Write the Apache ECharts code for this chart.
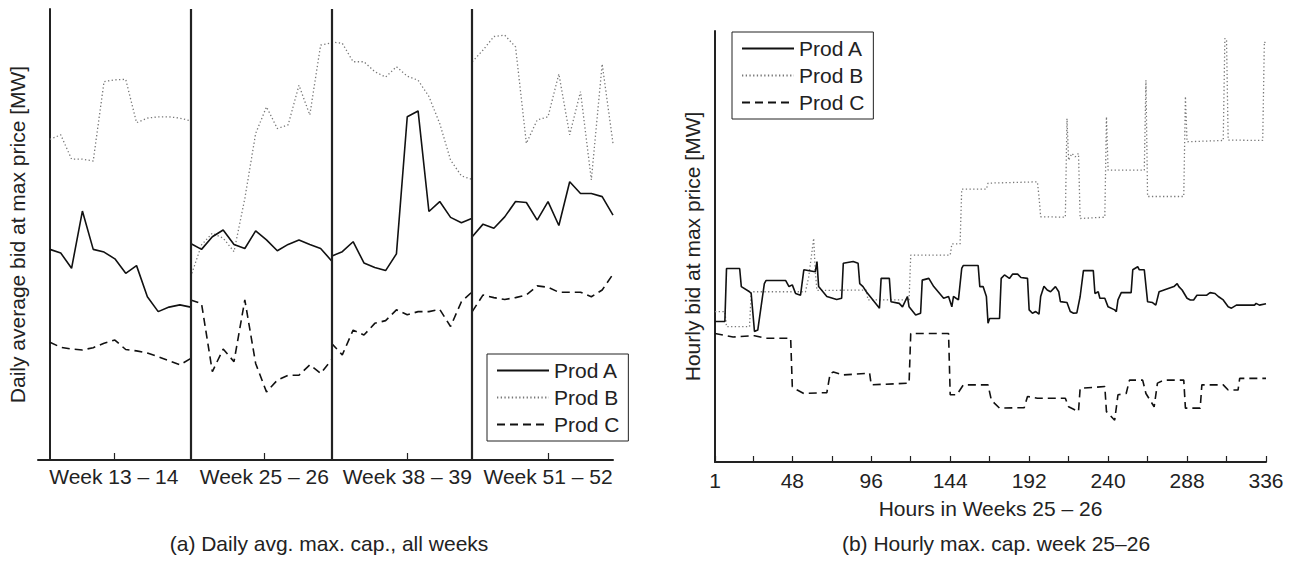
<!DOCTYPE html>
<html><head><meta charset="utf-8">
<script src="https://cdn.jsdelivr.net/npm/echarts@6/dist/echarts.min.js"></script>
<style>html,body{margin:0;padding:0;background:#fff}#c{width:1291px;height:562px}</style>
</head><body><div id="c"></div>
<script>
// ---------- data ----------
const products = ['Prod A', 'Prod B', 'Prod C'];
const weekLabels = ['Week 13 – 14', 'Week 25 – 26', 'Week 38 – 39', 'Week 51 – 52'];
const daysPerPeriod = 14;

// daily averages, 4 periods x 14 days
const dailyA = [46.7,45.9,42.5,55.2,46.7,46.1,44.6,41.4,43.1,36.2,32.9,33.9,34.4,33.9,
                48.0,46.7,49.5,51.0,47.8,46.9,50.8,48.8,46.4,47.8,48.8,47.8,46.9,44.2,
                45.2,46.2,48.4,43.7,42.7,42.0,45.7,76.1,77.4,55.1,57.3,53.8,52.6,53.6,
                49.5,52.3,51.4,53.9,57.3,57.1,53.2,57.3,52.0,61.7,59.1,59.1,58.4,54.3];
const dailyB = [71.1,72.1,66.7,66.7,66.3,83.9,84.3,84.4,74.8,75.8,76.1,76.1,75.8,75.2,
                40.6,47.7,50.3,49.2,46.2,58.0,72.4,78.3,73.5,74.3,83.1,76.5,92.0,92.5,
                92.7,92.4,88.3,88.3,86.1,84.9,87.2,85.1,84.2,80.6,74.6,66.5,63.0,62.2,
                88.3,90.9,93.9,94.2,91.6,70.2,75.4,76.1,85.6,72.1,81.7,62.1,87.8,70.2];
const dailyC = [26.1,25.0,24.6,24.4,24.9,25.9,26.6,24.5,24.2,23.7,22.9,22.0,21.1,22.5,
                35.5,34.7,19.6,24.6,21.8,35.5,21.4,15.1,17.7,18.8,18.8,21.1,19.2,22.2,
                25.9,23.3,28.8,27.7,30.3,30.9,33.3,32.2,32.9,32.9,33.4,29.6,35.1,37.3,
                32.9,36.6,36.0,35.6,36.0,36.6,38.6,38.3,37.2,37.2,37.2,36.2,37.7,41.2];

// hourly values, weeks 25-26: [hour, value]
const hourTicks = [1,24,48,72,96,120,144,168,192,216,240,264,288,312,336];
const hourLabels = [1,48,96,144,192,240,288,336];
const hourlyA = [[1,32.6],[7,32.6],[8,44.9],[16,44.9],[17,40.7],[22,39.5],[23,39.1],[25,30.3],[27,30.6],[31,41.4],[32,42.1],[44,42.1],[46,40.7],[48,41.1],[50,39.1],[53,38.7],[55,44.6],[61,44.2],[62,44.2],[63,46.5],[64,40.7],[69,38.4],[75,37.7],[78,38.0],[79,46.1],[85,46.5],[88,46.1],[89,41.4],[91,40.7],[93,39.5],[97,37.6],[101,35.7],[102,42.6],[107,42.6],[108,37.2],[113,36.8],[115,36.0],[118,38.4],[119,36.0],[123,34.1],[126,34.5],[127,42.2],[131,42.6],[134,40.7],[140,38.0],[143,38.4],[145,36.0],[146,38.4],[149,37.6],[151,44.9],[152,45.6],[161,45.6],[162,40.7],[164,40.7],[166,38.4],[167,32.2],[168,33.3],[174,33.3],[175,42.6],[177,43.4],[180,42.6],[182,43.6],[185,43.6],[187,42.8],[191,42.6],[192,35.3],[194,34.5],[196,34.9],[198,34.3],[199,38.4],[201,40.8],[203,39.9],[205,39.5],[208,40.7],[210,39.5],[211,37.2],[215,37.0],[217,34.9],[219,34.5],[221,34.6],[223,38.4],[225,44.4],[231,44.4],[232,39.1],[234,39.5],[235,38.0],[238,38.0],[240,36.0],[244,35.3],[245,34.9],[246,37.6],[248,39.3],[254,39.3],[255,44.6],[258,45.3],[259,44.6],[262,44.6],[264,37.2],[267,37.0],[269,36.4],[271,39.5],[274,39.9],[277,40.3],[280,40.7],[282,41.4],[283,40.7],[285,39.9],[288,38.0],[290,37.6],[292,37.6],[294,38.7],[300,38.7],[302,39.3],[305,39.1],[307,38.4],[310,37.6],[313,36.0],[315,35.7],[318,36.4],[329,36.4],[330,36.8],[332,36.4],[336,36.7]];
const hourlyB = [[1,34.9],[7,34.9],[8,31.4],[22,31.4],[23,39.5],[56,39.5],[58,43.0],[61,51.9],[62,44.0],[63,39.8],[93,39.9],[94,37.6],[119,37.6],[120,48.0],[144,48.0],[145,50.6],[150,50.6],[151,63.3],[166,63.3],[167,64.7],[197,65.0],[198,61.5],[199,56.9],[214,56.8],[215,79.7],[216,70.0],[218,71.6],[220,70.8],[222,71.6],[223,56.5],[238,56.8],[239,80.1],[240,67.7],[262,67.7],[263,88.6],[264,61.6],[286,61.6],[287,84.8],[288,74.3],[310,74.6],[311,98.3],[312,97.9],[313,74.7],[334,74.6],[335,97.5],[336,97.1]];
const hourlyC = [[1,29.8],[12,29.0],[25,29.3],[32,28.7],[47,28.7],[48,17.5],[51,16.7],[55,15.9],[69,16.1],[71,20.5],[73,20.9],[79,20.2],[95,20.6],[96,17.9],[119,18.3],[120,29.8],[143,29.8],[144,15.6],[148,15.6],[152,17.9],[167,17.9],[169,14.4],[171,13.6],[174,12.5],[189,12.6],[191,15.2],[197,14.8],[214,14.8],[216,12.8],[222,11.7],[223,17.1],[238,17.5],[239,11.7],[244,9.7],[246,15.6],[251,15.9],[253,19.0],[261,19.0],[263,15.9],[268,12.8],[270,18.3],[274,19.0],[286,19.0],[287,12.5],[296,12.5],[297,17.9],[310,17.9],[313,16.7],[319,16.7],[320,19.4],[336,19.4]];

// ---------- build ----------
const span = daysPerPeriod - 1;
function periodData(vals) {
  const out = [];
  for (let k = 0; k < weekLabels.length; k++) {
    for (let j = 0; j < daysPerPeriod; j++) out.push([k * span + j, vals[k * daysPerPeriod + j]]);
    if (k < weekLabels.length - 1) out.push(['-', '-']);
  }
  return out;
}
const separators = [1, 2, 3].map(k => ({ xAxis: k * span }));
const weekTickPos = [5.9, 19.8, 33, 46];

const FONT = 'Liberation Sans';
const INK = '#222';
const styles = {
  'Prod A': { color: '#111', width: 1.6, type: 'solid' },
  'Prod B': { color: '#777', width: 1.3, type: [1.3, 2.4] },
  'Prod C': { color: '#111', width: 1.6, type: [8, 5] }
};
function mk(name, data, gi, extra) {
  return Object.assign({
    name, type: 'line', data, xAxisIndex: gi, yAxisIndex: gi,
    symbol: 'none', showSymbol: false, connectNulls: false,
    lineStyle: styles[name], itemStyle: { color: styles[name].color },
    emphasis: { disabled: true }, silent: true, z: name === 'Prod B' ? 1 : 2
  }, extra || {});
}
const legendBase = {
  orient: 'vertical', selectedMode: false, data: products,
  itemWidth: 52, itemHeight: 1, itemGap: 6,
  itemStyle: { opacity: 0 },
  borderColor: INK, borderWidth: 1, padding: [6, 9, 6, 9], backgroundColor: '#fff',
  textStyle: { fontSize: 21, fontFamily: FONT, color: INK }
};

const chart = echarts.init(document.getElementById('c'), null, { renderer: 'svg' });
chart.setOption({
  animation: false,
  backgroundColor: '#fff',
  textStyle: { fontFamily: FONT },
  grid: [
    { left: 38, top: 9, width: 575, height: 451 },
    { left: 715, top: 31, width: 551, height: 431 }
  ],
  xAxis: [
    { type: 'value', gridIndex: 0, min: -1.1, max: 52,
      axisLine: { lineStyle: { color: INK, width: 2 } },
      axisTick: { show: true, inside: true, length: 7, customValues: weekTickPos, lineStyle: { color: INK, width: 1.2 } },
      axisLabel: { customValues: weekTickPos, fontSize: 21, color: INK, fontFamily: FONT, margin: 6,
        formatter: v => { let b = 0; weekTickPos.forEach((p, i) => { if (Math.abs(p - v) < Math.abs(weekTickPos[b] - v)) b = i; }); return weekLabels[b]; } },
      splitLine: { show: false } },
    { type: 'value', gridIndex: 1, min: 1, max: 336,
      name: 'Hours in Weeks 25 – 26', nameLocation: 'middle', nameGap: 36,
      nameTextStyle: { fontSize: 21, color: INK, fontFamily: FONT },
      axisLine: { lineStyle: { color: INK, width: 2 } },
      axisTick: { show: true, inside: true, length: 6, customValues: hourTicks, lineStyle: { color: INK, width: 1.2 } },
      axisLabel: { customValues: hourLabels, fontSize: 21, color: INK, fontFamily: FONT, margin: 8 },
      splitLine: { show: false } }
  ],
  yAxis: [
    { type: 'value', gridIndex: 0, min: 0, max: 100,
      name: 'Daily average bid at max price [MW]', nameLocation: 'middle', nameGap: 10,
      nameTextStyle: { fontSize: 21, color: INK, fontFamily: FONT },
      axisLine: { show: true, lineStyle: { color: INK, width: 2 } },
      axisTick: { show: false }, axisLabel: { show: false }, splitLine: { show: false } },
    { type: 'value', gridIndex: 1, min: 0, max: 100,
      name: 'Hourly bid at max price [MW]', nameLocation: 'middle', nameGap: 12,
      nameTextStyle: { fontSize: 21, color: INK, fontFamily: FONT },
      axisLine: { show: true, lineStyle: { color: INK, width: 2 } },
      axisTick: { show: false }, axisLabel: { show: false }, splitLine: { show: false } }
  ],
  legend: [
    Object.assign({ left: 487, top: 354 }, legendBase),
    Object.assign({ left: 732, top: 32 }, legendBase)
  ],
  series: [
    mk('Prod A', periodData(dailyA), 0, {
      markLine: { silent: true, symbol: ['none', 'none'], label: { show: false },
        lineStyle: { color: INK, width: 2.2, type: 'solid' }, data: separators }
    }),
    mk('Prod B', periodData(dailyB), 0),
    mk('Prod C', periodData(dailyC), 0),
    mk('Prod A', hourlyA, 1),
    mk('Prod B', hourlyB, 1),
    mk('Prod C', hourlyC, 1)
  ],
  graphic: [
    { type: 'text', x: 329, y: 543, silent: true,
      style: { text: '(a) Daily avg. max. cap., all weeks', fontSize: 21, fontFamily: FONT, fill: INK, align: 'center', verticalAlign: 'middle' } },
    { type: 'text', x: 996, y: 543, silent: true,
      style: { text: '(b) Hourly max. cap. week 25–26', fontSize: 21, fontFamily: FONT, fill: INK, align: 'center', verticalAlign: 'middle' } }
  ]
});
</script></body></html>
